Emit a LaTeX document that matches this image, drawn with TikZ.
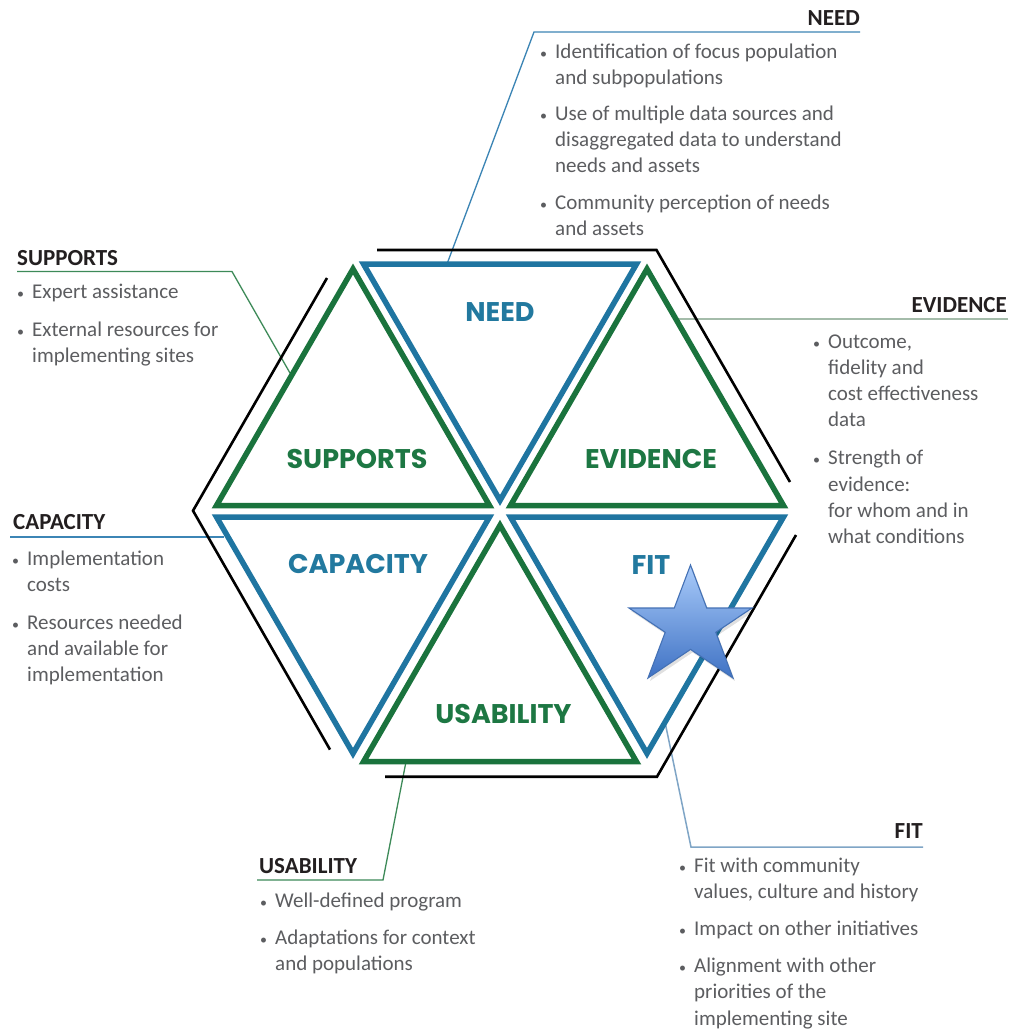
\documentclass[tikz,border=0pt]{standalone}
\usepackage{fontspec}
\setmainfont{Carlito}
\newfontfamily\labfont{Poppins}
\usetikzlibrary{calc}
\definecolor{triblue}{HTML}{1F75A1}
\definecolor{trigreen}{HTML}{1A733D}
\definecolor{labblue}{HTML}{22799F}
\definecolor{labgreen}{HTML}{1D7743}
\definecolor{headcol}{HTML}{231F20}
\definecolor{bodycol}{HTML}{5C5D60}
\definecolor{cblue}{HTML}{3C85B5}
\definecolor{cgreen}{HTML}{3D8A58}
\definecolor{cevid}{HTML}{A4BCAA}
\definecolor{cfit}{HTML}{7FA5C6}
\definecolor{startop}{HTML}{A9CBFA}
\definecolor{starbot}{HTML}{3F72C4}
\definecolor{starline}{HTML}{4471B5}
\newcommand\bl{\llap{{\fontsize{14}{14}\selectfont\textbullet}\hspace{8pt}}}
\tikzset{
  tri/.style={line width=5.5pt, line join=miter},
  bluetri/.style={tri, draw=triblue},
  greentri/.style={tri, draw=trigreen},
  outerline/.style={draw=black, line width=2.6pt, line join=miter},
  lab/.style={font=\labfont\bfseries\fontsize{27}{30}\selectfont, inner sep=0, anchor=base},
  head/.style={font=\bfseries\fontsize{23}{26}\selectfont, text=headcol, inner sep=0},
  body/.style={font=\fontsize{21}{26.2}\selectfont, text=bodycol, inner sep=0, anchor=base west},
  conn/.style={line width=1.3pt},
  starshape/.style={draw=starline, line width=1.1pt, line join=miter, top color=startop, bottom color=starbot},
}
\begin{document}
\begin{tikzpicture}[x=1pt,y=-1pt]
\fill[white] (0,0) rectangle (1011,1029);
\useasboundingbox (0,0) rectangle (1011,1029);

% triangle vertices
\coordinate (S1) at (353,269);   \coordinate (S2) at (216.5,505.5); \coordinate (S3) at (489.5,505.5);
\coordinate (E1) at (647,269);   \coordinate (E2) at (510.5,505.5); \coordinate (E3) at (783.5,505.5);
\coordinate (N1) at (363.5,264); \coordinate (N2) at (636.5,264);   \coordinate (N3) at (500,500.4);
\coordinate (C1) at (216.5,517); \coordinate (C2) at (489.5,517);   \coordinate (C3) at (353,753.4);
\coordinate (F1) at (510.5,517); \coordinate (F2) at (783.5,517);   \coordinate (F3) at (647,753.4);
\coordinate (U1) at (500,525.3); \coordinate (U2) at (363.5,761.7); \coordinate (U3) at (636.5,761.7);

% connector coordinates
\coordinate (needA) at (860,32);  \coordinate (needB) at (534,32);  \coordinate (needC) at (447,264);
\coordinate (supA) at (17,271.5); \coordinate (supB) at (232,271.5); \coordinate (supC) at (290,373);
\coordinate (capA) at (10,537);   \coordinate (capB) at (224,537);
\coordinate (eviA) at (1008,319); \coordinate (eviB) at (676,319);
\coordinate (usaA) at (257,880);  \coordinate (usaB) at (383,880);  \coordinate (usaC) at (406,761.7);
\coordinate (fitA) at (923,847);  \coordinate (fitB) at (691,847);  \coordinate (fitC) at (665,722);

\draw[conn, cblue] (needA) -- (needB) -- (needC);
\draw[conn, cgreen] (supA) -- (supB) -- (supC);
\draw[conn, cblue] (capA) -- (capB);
\draw[conn, cevid, line width=1.8pt] (eviA) -- (eviB);
\draw[conn, cgreen] (usaA) -- (usaB) -- (usaC);
\draw[conn, cfit, line width=1.5pt] (fitA) -- (fitB) -- (fitC);

% triangles
\draw[greentri] (S1) -- (S2) -- (S3) -- cycle;
\draw[greentri] (E1) -- (E2) -- (E3) -- cycle;
\draw[bluetri] (N1) -- (N2) -- (N3) -- cycle;
\draw[bluetri] (C1) -- (C2) -- (C3) -- cycle;
\draw[bluetri] (F1) -- (F2) -- (F3) -- cycle;
\draw[greentri] (U1) -- (U2) -- (U3) -- cycle;

% outer black lines
\coordinate (k1) at (377,250);   \coordinate (k2) at (656.5,250); \coordinate (k3) at (790,482);
\coordinate (k4) at (327,278);   \coordinate (k5) at (193,510.7); \coordinate (k6) at (330,749.6);
\coordinate (k7) at (796,535);   \coordinate (k8) at (657,776.7); \coordinate (k9) at (385,776.7);
\draw[outerline] (k1) -- (k2) -- (k3);
\draw[outerline] (k4) -- (k5) -- (k6);
\draw[outerline] (k7) -- (k8) -- (k9);

% triangle labels
\node[lab, text=labblue]  (needlab) at (500,321) {NEED};
\node[lab, text=labgreen] (suplab)  at (357,468.5) {SUPPORTS};
\node[lab, text=labgreen] (evilab)  at (651,468.5) {EVIDENCE};
\node[lab, text=labblue]  (caplab)  at (358,573) {CAPACITY};
\node[lab, text=labblue]  (fitlab)  at (651,574) {FIT};
\node[lab, text=labgreen] (usalab)  at (503.5,723) {USABILITY};

% star
\coordinate (st1) at (690.5,565);
\coordinate (st2) at (674.3,608);
\coordinate (st3) at (629,608);
\coordinate (st4) at (665.2,632.3);
\coordinate (st5) at (648,678);
\coordinate (st6) at (690.5,649.4);
\coordinate (st7) at (733,678);
\coordinate (st8) at (715.8,632.3);
\coordinate (st9) at (752,608);
\coordinate (st10) at (706.7,608);
\fill[black, opacity=0.12] ([shift={(2,3)}]st1) -- ([shift={(2,3)}]st2) -- ([shift={(2,3)}]st3) -- ([shift={(2,3)}]st4) -- ([shift={(2,3)}]st5) -- ([shift={(2,3)}]st6) -- ([shift={(2,3)}]st7) -- ([shift={(2,3)}]st8) -- ([shift={(2,3)}]st9) -- ([shift={(2,3)}]st10) -- cycle;
\path[starshape] (st1) -- (st2) -- (st3) -- (st4) -- (st5) -- (st6) -- (st7) -- (st8) -- (st9) -- (st10) -- cycle;

% headings
\node[head, anchor=base east] (needH) at (860,25) {NEED};
\node[head, anchor=base west] (supH)  at (17,265) {SUPPORTS};
\node[head, anchor=base west] (capH)  at (13,529) {CAPACITY};
\node[head, anchor=base east] (eviH)  at (1007,312) {EVIDENCE};
\node[head, anchor=base west] (usaH)  at (259,873) {USABILITY};
\node[head, anchor=base east] (fitH)  at (923,838) {FIT};

% bodies
\node[body] (needT) at (555,58) {\begin{tabular}[t]{@{}l@{}}
\bl Identification of focus population\\
and subpopulations\\[10pt]
\bl Use of multiple data sources and\\
disaggregated data to understand\\
needs and assets\\[10pt]
\bl Community perception of needs\\
and assets
\end{tabular}};

\node[body] (supT) at (32,298) {\begin{tabular}[t]{@{}l@{}}
\bl Expert assistance\\[12pt]
\bl External resources for\\
implementing sites
\end{tabular}};

\node[body] (capT) at (27,565) {\begin{tabular}[t]{@{}l@{}}
\bl Implementation\\
costs\\[12pt]
\bl Resources needed\\
and available for\\
implementation
\end{tabular}};

\node[body] (eviT) at (828,348) {\begin{tabular}[t]{@{}l@{}}
\bl Outcome,\\
fidelity and\\
cost effectiveness\\
data\\[12pt]
\bl Strength of\\
evidence:\\
for whom and in\\
what conditions
\end{tabular}};

\node[body] (usaT) at (275,907) {\begin{tabular}[t]{@{}l@{}}
\bl Well-defined program\\[11pt]
\bl Adaptations for context\\
and populations
\end{tabular}};

\node[body] (fitT) at (694,872) {\begin{tabular}[t]{@{}l@{}}
\bl Fit with community\\
values, culture and history\\[11pt]
\bl Impact on other initiatives\\[11pt]
\bl Alignment with other\\
priorities of the\\
implementing site
\end{tabular}};
\end{tikzpicture}
\end{document}
